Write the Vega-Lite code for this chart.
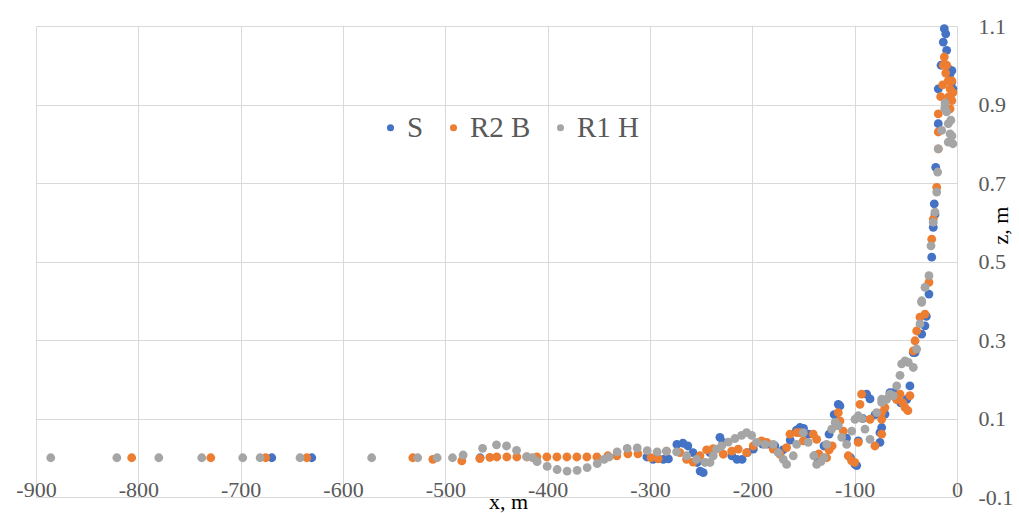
{
  "$schema": "https://vega.github.io/schema/vega-lite/v6.json",
  "width": 921,
  "height": 471,
  "autosize": "none",
  "padding": {"left": 36, "top": 26, "right": 62, "bottom": 16},
  "background": "white",
  "config": {
    "font": "Liberation Serif",
    "view": {"stroke": null},
    "axis": {"gridColor": "#d9d9d9", "gridWidth": 1, "labelColor": "#595959", "labelFontSize": 22, "labelFont": "Liberation Serif", "ticks": false}
  },
  "datasets": {
    "pts": [
      {"s":"S","x":-669.6,"z":0},{"s":"S","x":-630.5,"z":0},{"s":"S","x":-466,"z":0},{"s":"S","x":-303,"z":0.002},{"s":"S","x":-297,"z":-0.004},{"s":"S","x":-293,"z":-0.001},{"s":"S","x":-287,"z":-0.004},{"s":"S","x":-282,"z":-0.003},{"s":"S","x":-273.7,"z":0.034},{"s":"S","x":-267.8,"z":0.037},{"s":"S","x":-263,"z":0.03},{"s":"S","x":-258,"z":0.013},{"s":"S","x":-254,"z":-0.012},{"s":"S","x":-251,"z":-0.034},{"s":"S","x":-248,"z":-0.038},{"s":"S","x":-241.4,"z":0.013},{"s":"S","x":-231.7,"z":0.052},{"s":"S","x":-228.7,"z":0.039},{"s":"S","x":-220,"z":0.005},{"s":"S","x":-215,"z":-0.004},{"s":"S","x":-210,"z":-0.004},{"s":"S","x":-205,"z":0.013},{"s":"S","x":-199,"z":0.022},{"s":"S","x":-190,"z":0.035},{"s":"S","x":-185,"z":0.035},{"s":"S","x":-178,"z":0.03},{"s":"S","x":-170,"z":0.02},{"s":"S","x":-163,"z":0.045},{"s":"S","x":-157,"z":0.07},{"s":"S","x":-153.5,"z":0.077},{"s":"S","x":-150,"z":0.075},{"s":"S","x":-145,"z":0.06},{"s":"S","x":-138.8,"z":0.005},{"s":"S","x":-135.6,"z":-0.004},{"s":"S","x":-130,"z":0.03},{"s":"S","x":-125,"z":0.06},{"s":"S","x":-120,"z":0.11},{"s":"S","x":-116,"z":0.136},{"s":"S","x":-114.4,"z":0.132},{"s":"S","x":-108,"z":0.05},{"s":"S","x":-104,"z":0},{"s":"S","x":-99.7,"z":-0.017},{"s":"S","x":-98,"z":-0.02},{"s":"S","x":-96.5,"z":0.043},{"s":"S","x":-92,"z":0.1},{"s":"S","x":-88.3,"z":0.162},{"s":"S","x":-85,"z":0.15},{"s":"S","x":-80,"z":0.11},{"s":"S","x":-75.3,"z":0.064},{"s":"S","x":-75.3,"z":0.039},{"s":"S","x":-73.6,"z":0.077},{"s":"S","x":-70.4,"z":0.111},{"s":"S","x":-65.5,"z":0.166},{"s":"S","x":-62,"z":0.166},{"s":"S","x":-58.9,"z":0.149},{"s":"S","x":-55,"z":0.14},{"s":"S","x":-49,"z":0.149},{"s":"S","x":-46,"z":0.183},{"s":"S","x":-42.7,"z":0.268},{"s":"S","x":-41,"z":0.268},{"s":"S","x":-34.5,"z":0.315},{"s":"S","x":-31.3,"z":0.336},{"s":"S","x":-30,"z":0.36},{"s":"S","x":-27.4,"z":0.417},{"s":"S","x":-24.7,"z":0.511},{"s":"S","x":-23.2,"z":0.587},{"s":"S","x":-22.2,"z":0.647},{"s":"S","x":-21.5,"z":0.62},{"s":"S","x":-20.8,"z":0.74},{"s":"S","x":-18.3,"z":0.851},{"s":"S","x":-18.3,"z":0.94},{"s":"S","x":-15.6,"z":1.0},{"s":"S","x":-13.4,"z":1.059},{"s":"S","x":-12.4,"z":1.093},{"s":"S","x":-11,"z":1.08},{"s":"S","x":-10.1,"z":1.038},{"s":"S","x":-8,"z":0.99},{"s":"S","x":-6.8,"z":0.978},{"s":"S","x":-5.2,"z":0.957},{"s":"S","x":-5,"z":0.986},{"s":"S","x":-4,"z":0.94},{"s":"S","x":-7,"z":0.92},
      {"s":"R2 B","x":-806.5,"z":0},{"s":"R2 B","x":-729.2,"z":0},{"s":"R2 B","x":-675.5,"z":0},{"s":"R2 B","x":-635.4,"z":0},{"s":"R2 B","x":-531.8,"z":0},{"s":"R2 B","x":-512.2,"z":-0.004},{"s":"R2 B","x":-483.9,"z":-0.008},{"s":"R2 B","x":-466.3,"z":-0.002},{"s":"R2 B","x":-456.5,"z":0.001},{"s":"R2 B","x":-449.7,"z":0.002},{"s":"R2 B","x":-439.9,"z":0.002},{"s":"R2 B","x":-430.1,"z":0.002},{"s":"R2 B","x":-420.3,"z":0.002},{"s":"R2 B","x":-410.6,"z":0.002},{"s":"R2 B","x":-400.8,"z":0.002},{"s":"R2 B","x":-391,"z":0.002},{"s":"R2 B","x":-381.2,"z":0.002},{"s":"R2 B","x":-371.5,"z":0.002},{"s":"R2 B","x":-361.7,"z":0.002},{"s":"R2 B","x":-351.9,"z":0.002},{"s":"R2 B","x":-341.2,"z":0.005},{"s":"R2 B","x":-332.4,"z":0.005},{"s":"R2 B","x":-321.6,"z":0.01},{"s":"R2 B","x":-311.8,"z":0.01},{"s":"R2 B","x":-299,"z":0},{"s":"R2 B","x":-292,"z":-0.003},{"s":"R2 B","x":-283.8,"z":0.017},{"s":"R2 B","x":-270.8,"z":0.013},{"s":"R2 B","x":-264.2,"z":-0.004},{"s":"R2 B","x":-257.8,"z":-0.011},{"s":"R2 B","x":-251.2,"z":0.005},{"s":"R2 B","x":-244.7,"z":0.02},{"s":"R2 B","x":-238.2,"z":0.023},{"s":"R2 B","x":-228.4,"z":0.009},{"s":"R2 B","x":-220.2,"z":0.017},{"s":"R2 B","x":-213.8,"z":0.022},{"s":"R2 B","x":-205.6,"z":0.013},{"s":"R2 B","x":-199.1,"z":0.03},{"s":"R2 B","x":-190.9,"z":0.043},{"s":"R2 B","x":-186,"z":0.039},{"s":"R2 B","x":-179.6,"z":0.022},{"s":"R2 B","x":-173,"z":0.009},{"s":"R2 B","x":-166.5,"z":0.026},{"s":"R2 B","x":-163.2,"z":0.06},{"s":"R2 B","x":-156.7,"z":0.064},{"s":"R2 B","x":-153.5,"z":0.064},{"s":"R2 B","x":-150.2,"z":0.043},{"s":"R2 B","x":-140.5,"z":0.06},{"s":"R2 B","x":-137.1,"z":0.047},{"s":"R2 B","x":-135,"z":0.01},{"s":"R2 B","x":-132,"z":0},{"s":"R2 B","x":-127.4,"z":0},{"s":"R2 B","x":-125,"z":0.02},{"s":"R2 B","x":-122,"z":0.03},{"s":"R2 B","x":-116,"z":0.115},{"s":"R2 B","x":-114.4,"z":0.094},{"s":"R2 B","x":-111.1,"z":0.068},{"s":"R2 B","x":-106.3,"z":0.005},{"s":"R2 B","x":-102.9,"z":-0.008},{"s":"R2 B","x":-100,"z":-0.012},{"s":"R2 B","x":-96.5,"z":0.039},{"s":"R2 B","x":-94.8,"z":0.136},{"s":"R2 B","x":-93.2,"z":0.162},{"s":"R2 B","x":-85,"z":0.098},{"s":"R2 B","x":-80.2,"z":0.03},{"s":"R2 B","x":-73.6,"z":0.115},{"s":"R2 B","x":-73.6,"z":0.098},{"s":"R2 B","x":-73.6,"z":0.06},{"s":"R2 B","x":-70.4,"z":0.128},{"s":"R2 B","x":-65.5,"z":0.158},{"s":"R2 B","x":-58.9,"z":0.149},{"s":"R2 B","x":-58,"z":0.15},{"s":"R2 B","x":-55.7,"z":0.162},{"s":"R2 B","x":-53,"z":0.14},{"s":"R2 B","x":-50.8,"z":0.128},{"s":"R2 B","x":-48,"z":0.12},{"s":"R2 B","x":-46,"z":0.158},{"s":"R2 B","x":-42.7,"z":0.272},{"s":"R2 B","x":-41,"z":0.298},{"s":"R2 B","x":-39.4,"z":0.323},{"s":"R2 B","x":-36.2,"z":0.358},{"s":"R2 B","x":-31.3,"z":0.366},{"s":"R2 B","x":-27.4,"z":0.447},{"s":"R2 B","x":-24.7,"z":0.557},{"s":"R2 B","x":-23.2,"z":0.608},{"s":"R2 B","x":-19.8,"z":0.689},{"s":"R2 B","x":-18.3,"z":0.787},{"s":"R2 B","x":-18.3,"z":0.83},{"s":"R2 B","x":-18.3,"z":0.876},{"s":"R2 B","x":-16,"z":0.92},{"s":"R2 B","x":-14,"z":0.95},{"s":"R2 B","x":-13.4,"z":1.0},{"s":"R2 B","x":-12.4,"z":1.021},{"s":"R2 B","x":-11,"z":0.98},{"s":"R2 B","x":-10,"z":1.0},{"s":"R2 B","x":-8.5,"z":0.961},{"s":"R2 B","x":-8.5,"z":0.919},{"s":"R2 B","x":-6.8,"z":0.94},{"s":"R2 B","x":-6.8,"z":0.889},{"s":"R2 B","x":-5,"z":0.96},{"s":"R2 B","x":-4,"z":0.93},{"s":"R2 B","x":-5,"z":0.91},
      {"s":"R1 H","x":-885.6,"z":0},{"s":"R1 H","x":-821,"z":0},{"s":"R1 H","x":-780,"z":0},{"s":"R1 H","x":-738,"z":0},{"s":"R1 H","x":-698,"z":0},{"s":"R1 H","x":-681,"z":0},{"s":"R1 H","x":-642,"z":0},{"s":"R1 H","x":-572,"z":0},{"s":"R1 H","x":-527,"z":0},{"s":"R1 H","x":-508,"z":0},{"s":"R1 H","x":-493,"z":0},{"s":"R1 H","x":-482.6,"z":0.007},{"s":"R1 H","x":-463.6,"z":0.024},{"s":"R1 H","x":-450,"z":0.033},{"s":"R1 H","x":-440.2,"z":0.03},{"s":"R1 H","x":-430.4,"z":0.019},{"s":"R1 H","x":-420.6,"z":0.003},{"s":"R1 H","x":-414.8,"z":0},{"s":"R1 H","x":-410.3,"z":-0.01},{"s":"R1 H","x":-400.5,"z":-0.022},{"s":"R1 H","x":-390.7,"z":-0.03},{"s":"R1 H","x":-381,"z":-0.034},{"s":"R1 H","x":-371.2,"z":-0.032},{"s":"R1 H","x":-361.4,"z":-0.025},{"s":"R1 H","x":-351.6,"z":-0.015},{"s":"R1 H","x":-344.8,"z":-0.004},{"s":"R1 H","x":-339.9,"z":0.002},{"s":"R1 H","x":-332.1,"z":0.015},{"s":"R1 H","x":-322.3,"z":0.024},{"s":"R1 H","x":-312.5,"z":0.025},{"s":"R1 H","x":-302.7,"z":0.018},{"s":"R1 H","x":-293,"z":0.015},{"s":"R1 H","x":-284,"z":0.017},{"s":"R1 H","x":-274,"z":0.015},{"s":"R1 H","x":-264.2,"z":0.005},{"s":"R1 H","x":-254.4,"z":-0.004},{"s":"R1 H","x":-246.3,"z":-0.012},{"s":"R1 H","x":-241.4,"z":-0.012},{"s":"R1 H","x":-238.2,"z":0.005},{"s":"R1 H","x":-234.9,"z":0.022},{"s":"R1 H","x":-230,"z":0.03},{"s":"R1 H","x":-223.5,"z":0.04},{"s":"R1 H","x":-217,"z":0.049},{"s":"R1 H","x":-210.5,"z":0.057},{"s":"R1 H","x":-205.6,"z":0.064},{"s":"R1 H","x":-200.7,"z":0.057},{"s":"R1 H","x":-195.8,"z":0.039},{"s":"R1 H","x":-187.7,"z":0.034},{"s":"R1 H","x":-179.6,"z":0.034},{"s":"R1 H","x":-174.7,"z":0.013},{"s":"R1 H","x":-169.8,"z":-0.004},{"s":"R1 H","x":-166.5,"z":-0.017},{"s":"R1 H","x":-160,"z":0.005},{"s":"R1 H","x":-156.7,"z":0.034},{"s":"R1 H","x":-150.2,"z":0.064},{"s":"R1 H","x":-145.4,"z":0.039},{"s":"R1 H","x":-140,"z":0.005},{"s":"R1 H","x":-137.1,"z":-0.017},{"s":"R1 H","x":-133,"z":-0.01},{"s":"R1 H","x":-130,"z":0},{"s":"R1 H","x":-127.4,"z":0.034},{"s":"R1 H","x":-122.5,"z":0.073},{"s":"R1 H","x":-119,"z":0.09},{"s":"R1 H","x":-116,"z":0.081},{"s":"R1 H","x":-112.7,"z":0.052},{"s":"R1 H","x":-107.8,"z":0.034},{"s":"R1 H","x":-102.9,"z":0.068},{"s":"R1 H","x":-99.7,"z":0.098},{"s":"R1 H","x":-96.5,"z":0.107},{"s":"R1 H","x":-93,"z":0.1},{"s":"R1 H","x":-89.9,"z":0.073},{"s":"R1 H","x":-85,"z":0.047},{"s":"R1 H","x":-78.5,"z":0.115},{"s":"R1 H","x":-73.6,"z":0.141},{"s":"R1 H","x":-73.6,"z":0.149},{"s":"R1 H","x":-68.7,"z":0.149},{"s":"R1 H","x":-65.5,"z":0.162},{"s":"R1 H","x":-62.3,"z":0.158},{"s":"R1 H","x":-58.9,"z":0.183},{"s":"R1 H","x":-55.7,"z":0.21},{"s":"R1 H","x":-54.1,"z":0.239},{"s":"R1 H","x":-50.8,"z":0.247},{"s":"R1 H","x":-47.6,"z":0.243},{"s":"R1 H","x":-42.7,"z":0.23},{"s":"R1 H","x":-39.4,"z":0.277},{"s":"R1 H","x":-36.2,"z":0.341},{"s":"R1 H","x":-34.5,"z":0.396},{"s":"R1 H","x":-34.5,"z":0.4},{"s":"R1 H","x":-31.3,"z":0.434},{"s":"R1 H","x":-27.4,"z":0.464},{"s":"R1 H","x":-25.4,"z":0.54},{"s":"R1 H","x":-23.2,"z":0.6},{"s":"R1 H","x":-21.5,"z":0.626},{"s":"R1 H","x":-19.8,"z":0.677},{"s":"R1 H","x":-18.9,"z":0.728},{"s":"R1 H","x":-18.3,"z":0.787},{"s":"R1 H","x":-15,"z":0.834},{"s":"R1 H","x":-12,"z":0.89},{"s":"R1 H","x":-11.7,"z":0.904},{"s":"R1 H","x":-10.1,"z":0.881},{"s":"R1 H","x":-8.5,"z":0.851},{"s":"R1 H","x":-8.5,"z":0.804},{"s":"R1 H","x":-6.8,"z":0.825},{"s":"R1 H","x":-6,"z":0.86},{"s":"R1 H","x":-5,"z":0.82},{"s":"R1 H","x":-4,"z":0.8}
    ]
  },
  "layer": [
    {
      "mark": {"type": "rule", "color": "#bfbfbf", "strokeWidth": 1},
      "encoding": {"y": {"datum": 0, "type": "quantitative"}}
    },
    {
      "data": {"name": "pts"},
      "mark": {"type": "point", "filled": true, "shape": "circle", "size": 78, "opacity": 1},
      "encoding": {
        "x": {
          "field": "x", "type": "quantitative",
          "scale": {"domain": [-900, 0], "nice": false, "zero": false},
          "axis": {
            "orient": "bottom", "values": [-900,-800,-700,-600,-500,-400,-300,-200,-100,0],
            "labelExpr": "replace(datum.label, '\u2212', '-')",
            "grid": true, "domainColor": "#d9d9d9", "labelBaseline": "alphabetic", "labelPadding": -1,
            "labelFlush": false, "labelOverlap": false,
            "title": "x, m", "titleFont": "Liberation Serif", "titleFontSize": 22, "titleFontWeight": "normal", "titleColor": "#000000",
            "titleX": 472, "titleY": 11, "titleAlign": "center", "titleBaseline": "alphabetic"
          }
        },
        "y": {
          "field": "z", "type": "quantitative",
          "scale": {"domain": [-0.1, 1.1], "nice": false, "zero": false},
          "axis": {
            "orient": "right", "values": [-0.1,0.1,0.3,0.5,0.7,0.9,1.1], "format": ".1f",
            "labelExpr": "replace(datum.label, '\u2212', '-')",
            "grid": true, "domain": false, "labelPadding": 21, "labelAlign": "left", "labelBaseline": "middle",
            "labelFlush": false, "labelOverlap": false,
            "title": "z, m", "titleFont": "Liberation Serif", "titleFontSize": 22, "titleFontWeight": "normal", "titleColor": "#000000",
            "titleAngle": 270, "titleX": 43, "titleY": 199, "titleAlign": "center", "titleBaseline": "middle"
          }
        },
        "color": {
          "field": "s", "type": "nominal",
          "scale": {"domain": ["S", "R2 B", "R1 H"], "range": ["#4472C4", "#ED7D31", "#A5A5A5"]},
          "legend": {
            "title": null, "orient": "none", "direction": "horizontal", "legendX": 340, "legendY": 87,
            "symbolType": "circle", "symbolSize": 50, "labelFontSize": 29, "labelColor": "#595959", "labelFont": "Liberation Serif",
            "labelOffset": 2, "columnPadding": 15, "padding": 0
          }
        }
      }
    }
  ]
}
